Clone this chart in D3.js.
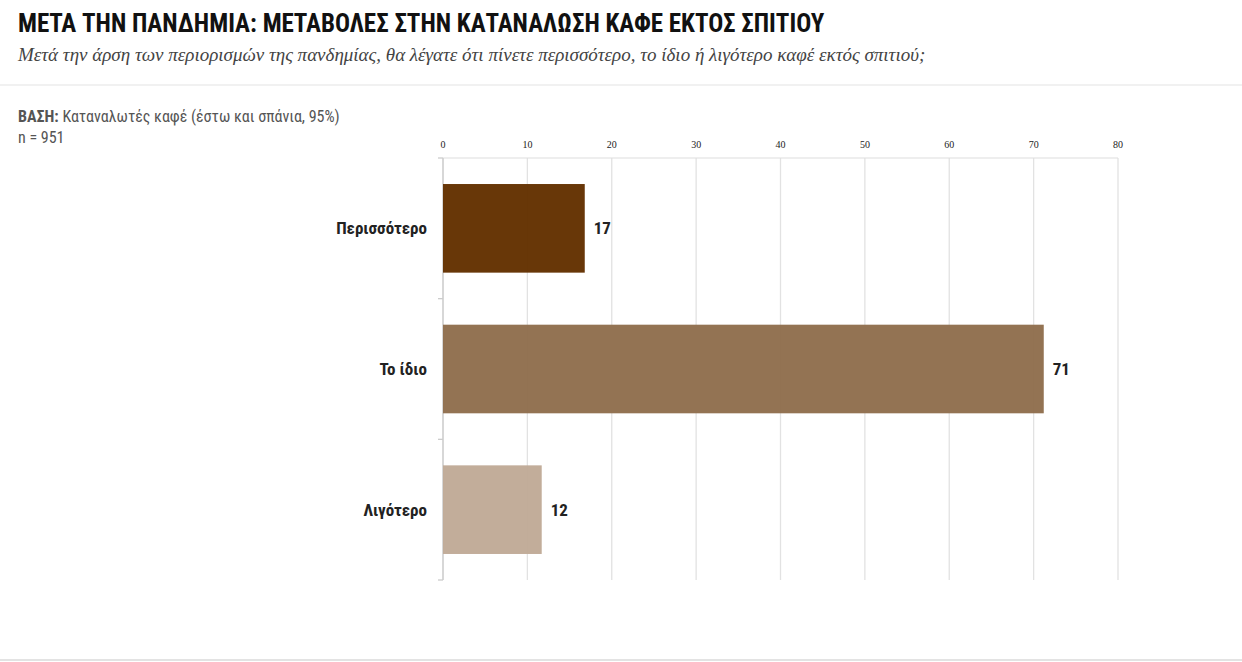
<!DOCTYPE html>
<html><head><meta charset="utf-8">
<script src="https://cdn.jsdelivr.net/npm/d3@7"></script>
<style>body{margin:0;background:#fff}</style></head>
<body><svg id="c" width="1242" height="662"></svg>
<script>
const categories = ["Περισσότερο","Το ίδιο","Λιγότερο"];
const values = [16.8, 71.2, 11.7];
const labels = ["17","71","12"];
const colors = ["#633100","#8f6e4d","#c0aa97"];
const ticks = [0,10,20,30,40,50,60,70,80];

const svg = d3.select("#c");
const narrow = "'Liberation Sans Narrow','Roboto Condensed','Arial Narrow',sans-serif";
svg.append("text").attr("x",18).attr("y",32).attr("font-family",narrow).attr("font-weight","bold")
  .attr("font-size",25).attr("fill","#111").text("ΜΕΤΑ ΤΗΝ ΠΑΝΔΗΜΙΑ: ΜΕΤΑΒΟΛΕΣ ΣΤΗΝ ΚΑΤΑΝΑΛΩΣΗ ΚΑΦΕ ΕΚΤΟΣ ΣΠΙΤΙΟΥ");
svg.append("text").attr("x",18).attr("y",61).attr("font-family","'Liberation Serif','DejaVu Serif',serif")
  .attr("font-style","italic").attr("font-size",19).attr("fill","#444")
  .text("Μετά την άρση των περιορισμών της πανδημίας, θα λέγατε ότι πίνετε περισσότερο, το ίδιο ή λιγότερο καφέ εκτός σπιτιού;");
svg.append("line").attr("x1",0).attr("x2",1242).attr("y1",85).attr("y2",85).attr("stroke","#e3e3e3");
svg.append("line").attr("x1",0).attr("x2",1242).attr("y1",660).attr("y2",660).attr("stroke","#e3e3e3").attr("stroke-width",2);
const b = svg.append("text").attr("x",18).attr("y",122).attr("font-family",narrow).attr("font-size",16).attr("fill","#555");
b.append("tspan").attr("font-weight","bold").text("ΒΑΣΗ:");
b.append("tspan").text(" Καταναλωτές καφέ (έστω και σπάνια, 95%)");
svg.append("text").attr("x",18).attr("y",143).attr("font-family",narrow).attr("font-size",16).attr("fill","#555").text("n = 951");

const x = d3.scaleLinear().domain([0,80]).range([443,1118]);
const y = d3.scaleBand().domain(categories).range([158,580]).paddingInner(0.37).paddingOuter(0.185);
const g = svg.append("g");
g.selectAll(".grid").data(ticks).join("line").attr("x1",d=>x(d)).attr("x2",d=>x(d))
  .attr("y1",158).attr("y2",580).attr("stroke","#e2e2e2").attr("stroke-width",1.3);
g.append("line").attr("x1",443).attr("x2",1118).attr("y1",158).attr("y2",158).attr("stroke","#ddd");
g.selectAll(".tl").data(ticks).join("text").attr("x",d=>x(d)).attr("y",148).attr("text-anchor","middle")
  .attr("font-family","'Liberation Serif','DejaVu Serif',serif").attr("font-size",10).attr("fill","#222").text(d=>d);
// left axis
g.append("line").attr("x1",443).attr("x2",443).attr("y1",158).attr("y2",580).attr("stroke","#ccc").attr("stroke-width",1.3);
const step = y.step();
const seps = [y(categories[0]) - step*0.185, ...categories.map(c=>y(c)+y.bandwidth()+step*0.185)];
g.selectAll(".sep").data(seps).join("line").attr("x1",438).attr("x2",443).attr("y1",d=>d).attr("y2",d=>d).attr("stroke","#ccc").attr("stroke-width",1.3);
g.selectAll(".bar").data(categories).join("rect").attr("x",x(0)).attr("y",d=>y(d))
  .attr("width",(d,i)=>x(values[i])-x(0)).attr("height",y.bandwidth()).attr("fill",(d,i)=>colors[i]).attr("fill-opacity",0.97);
g.selectAll(".cl").data(categories).join("text").attr("x",427).attr("y",d=>y(d)+y.bandwidth()/2+6)
  .attr("text-anchor","end").attr("font-family",narrow).attr("font-weight","bold").attr("font-size",17).attr("fill","#222").text(d=>d);
g.selectAll(".vl").data(categories).join("text").attr("x",(d,i)=>x(values[i])+9).attr("y",d=>y(d)+y.bandwidth()/2+6)
  .attr("font-family",narrow).attr("font-weight","bold").attr("font-size",17).attr("fill","#222").text((d,i)=>labels[i]);
</script></body></html>
